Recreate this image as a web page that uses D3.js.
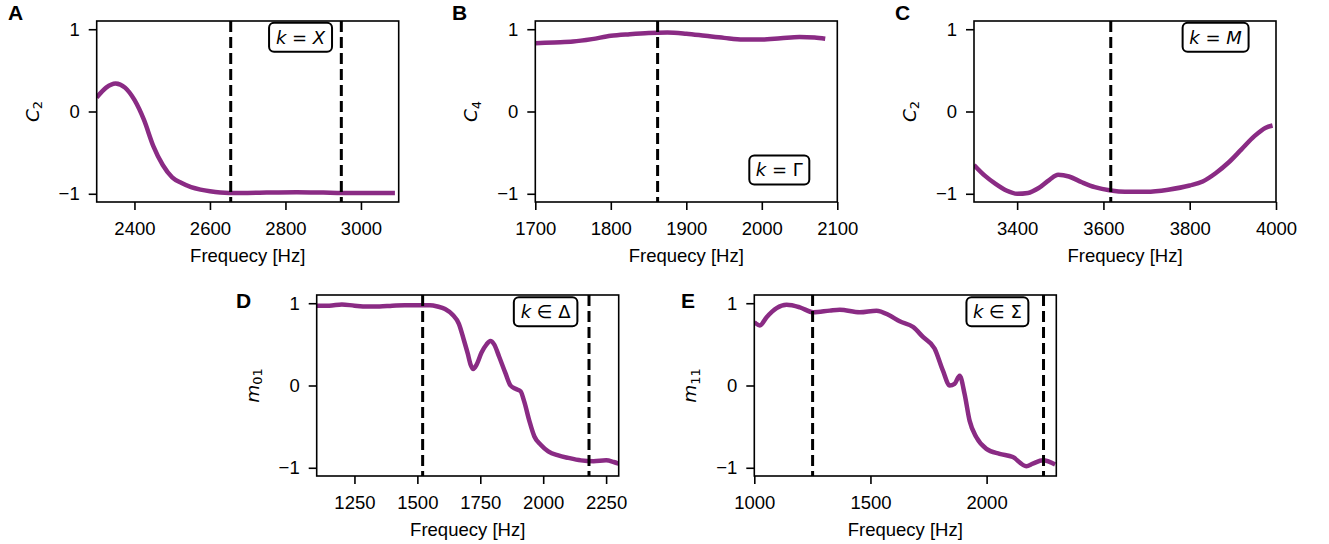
<!DOCTYPE html>
<head>
<meta charset="utf-8">
<title>Frequency panels</title>
<style>
html, body { margin: 0; padding: 0; background: #fff; }
body { font-family: "Liberation Sans", Arial, sans-serif; }
.tick text { font-size: 18.5px; font-family: "Liberation Sans", Arial, sans-serif; fill: #000; }
.tick line { stroke: #000; stroke-width: 1.6px; }
.domain { display: none; }
.frame { fill: none; stroke: #000; stroke-width: 1.6px; }
.curve { fill: none; stroke: #8a2b84; stroke-width: 4.5px; stroke-linejoin: round; }
.marker { stroke: #000; stroke-width: 3px; stroke-dasharray: 11 5; }
.xlabel { font-size: 18.5px; text-anchor: middle; font-family: "Liberation Sans", Arial, sans-serif; }
.ylabel { font-family: "DejaVu Sans", sans-serif; font-size: 18.5px; text-anchor: middle; }
.letter { font-size: 21px; font-weight: bold; font-family: "Liberation Sans", Arial, sans-serif; }
.note text { font-family: "DejaVu Sans", sans-serif; font-size: 18px; text-anchor: middle; }
.note rect { fill: #fff; stroke: #000; stroke-width: 2px; }
</style>
</head>
<body>
<svg width="1329" height="544"></svg>
<script src="https://d3js.org/d3.v7.min.js"></script>
<script>
// ---- data ----
var freqA = [2300, 2325, 2350, 2375, 2400, 2425, 2450, 2475, 2500, 2525, 2550, 2575, 2600, 2650, 2700, 2750, 2830, 2900, 2950, 3000, 3090];
var valA  = [0.17, 0.29, 0.34, 0.29, 0.14, -0.1, -0.42, -0.65, -0.8, -0.87, -0.92, -0.95, -0.97, -0.99, -0.99, -0.985, -0.98, -0.985, -0.99, -0.99, -0.99];
var markA = [2655, 2948];

var freqB = [1700, 1725, 1750, 1775, 1800, 1825, 1850, 1875, 1900, 1925, 1950, 1975, 2000, 2025, 2050, 2070, 2084];
var valB  = [0.83, 0.84, 0.85, 0.88, 0.92, 0.94, 0.955, 0.96, 0.945, 0.92, 0.895, 0.875, 0.875, 0.89, 0.905, 0.9, 0.885];
var markB = [1862];

var freqC = [3300, 3325, 3350, 3375, 3400, 3425, 3450, 3475, 3495, 3520, 3550, 3580, 3617, 3650, 3700, 3750, 3800, 3830, 3860, 3890, 3920, 3950, 3975, 3992];
var valC  = [-0.65, -0.78, -0.88, -0.96, -1.0, -0.99, -0.93, -0.83, -0.77, -0.79, -0.86, -0.92, -0.96, -0.975, -0.975, -0.95, -0.9, -0.85, -0.75, -0.62, -0.46, -0.3, -0.2, -0.17];
var markC = [3617];

var freqD = [1100, 1150, 1200, 1250, 1300, 1350, 1400, 1450, 1500, 1550, 1580, 1610, 1640, 1665, 1685, 1700, 1712, 1722, 1735, 1755, 1775, 1790, 1805, 1825, 1850, 1870, 1890, 1910, 1925, 1945, 1965, 1990, 2020, 2060, 2100, 2150, 2200, 2250, 2280, 2300];
var valD  = [0.97, 0.97, 0.985, 0.97, 0.96, 0.96, 0.97, 0.975, 0.975, 0.975, 0.96, 0.93, 0.86, 0.75, 0.55, 0.39, 0.25, 0.2, 0.25, 0.4, 0.5, 0.54, 0.5, 0.35, 0.15, 0.0, -0.04, -0.07, -0.2, -0.43, -0.62, -0.72, -0.8, -0.85, -0.88, -0.91, -0.92, -0.91, -0.93, -0.95];
var markD = [1521, 2182];

var freqE = [1000, 1024, 1053, 1096, 1139, 1196, 1254, 1325, 1368, 1454, 1526, 1583, 1626, 1684, 1726, 1776, 1812, 1841, 1862, 1884, 1905, 1927, 1956, 1999, 2056, 2113, 2171, 2199, 2242, 2295];
var valE  = [0.77, 0.73, 0.83, 0.94, 0.98, 0.95, 0.89, 0.91, 0.92, 0.89, 0.91, 0.85, 0.78, 0.71, 0.59, 0.45, 0.18, 0.0, 0.02, 0.12, -0.1, -0.43, -0.63, -0.77, -0.83, -0.87, -0.98, -0.95, -0.91, -0.96];
var markE = [1251, 2245];

var yTicks = [-1, 0, 1];

var panels = [
  {id: "A", f: freqA, v: valA, marks: markA, xdom: [2300, 3100], xticks: [2400, 2600, 2800, 3000],
   ylab: ["C", "2"], note: ["k", " = ", "X"], left: 96.7, top: 21, letter: [8, 20], nf: [0.675, 0.09]},
  {id: "B", f: freqB, v: valB, marks: markB, xdom: [1700, 2100], xticks: [1700, 1800, 1900, 2000, 2100],
   ylab: ["C", "4"], note: ["k", " = ", "Γ"], left: 535.3, top: 21, letter: [452, 20], nf: [0.808, 0.823]},
  {id: "C", f: freqC, v: valC, marks: markC, xdom: [3300, 4000], xticks: [3400, 3600, 3800, 4000],
   ylab: ["C", "2"], note: ["k", " = ", "M"], left: 974, top: 21, letter: [895, 20], nf: [0.8, 0.09]},
  {id: "D", f: freqD, v: valD, marks: markD, xdom: [1100, 2300], xticks: [1250, 1500, 1750, 2000, 2250],
   ylab: ["m", "01"], note: ["k", " ∈ ", "Δ"], left: 316.7, top: 295, letter: [236, 308], nf: [0.758, 0.092]},
  {id: "E", f: freqE, v: valE, marks: markE, xdom: [1000, 2300], xticks: [1000, 1500, 2000],
   ylab: ["m", "11"], note: ["k", " ∈ ", "Σ"], left: 754.3, top: 295, letter: [681, 308], nf: [0.805, 0.092]}
];

var W = 302, H = 181;
var svg = d3.select("svg");
svg.append("rect").attr("width", 1329).attr("height", 544).attr("fill", "#fff");

function fmt(d) { return d < 0 ? "\u2212" + Math.abs(d) : String(d); }

panels.forEach(function(p) {
  var x = d3.scaleLinear().domain(p.xdom).range([0, W]);
  var y = d3.scaleLinear().domain([-1.1, 1.1]).range([H, 0]);
  var g = svg.append("g").attr("transform", "translate(" + p.left + "," + p.top + ")");

  g.append("clipPath").attr("id", "clip" + p.id)
    .append("rect").attr("width", W).attr("height", H);

  var pts = p.f.map(function(f, i) { return [f, p.v[i]]; });
  var line = d3.line()
    .x(function(d) { return x(d[0]); })
    .y(function(d) { return y(d[1]); })
    .curve(d3.curveMonotoneX);

  g.append("path").datum(pts)
    .attr("class", "curve")
    .attr("clip-path", "url(#clip" + p.id + ")")
    .attr("d", line);

  g.selectAll(".marker").data(p.marks)
    .enter().append("line")
      .attr("class", "marker")
      .attr("x1", function(d) { return x(d); })
      .attr("x2", function(d) { return x(d); })
      .attr("y1", 0).attr("y2", H);

  g.append("g").attr("transform", "translate(0," + H + ")")
    .call(d3.axisBottom(x).tickValues(p.xticks).tickSize(8).tickPadding(12).tickFormat(fmt));
  g.append("g")
    .call(d3.axisLeft(y).tickValues(yTicks).tickSize(8).tickPadding(9).tickFormat(fmt));

  g.append("rect").attr("class", "frame").attr("width", W).attr("height", H);

  // annotation box
  var note = g.append("g").attr("class", "note");
  var cx = p.nf[0] * W, cy = p.nf[1] * H;
  var rect = note.append("rect");
  var t = note.append("text").attr("x", cx).attr("y", cy + 6.5);
  t.append("tspan").style("font-style", "italic").text(p.note[0]);
  t.append("tspan").text(p.note[1]);
  t.append("tspan").style("font-style", p.note[2] === "X" || p.note[2] === "M" ? "italic" : "normal").text(p.note[2]);
  var bb = t.node().getBBox();
  rect.attr("x", cx - bb.width / 2 - 6.5).attr("y", cy - 14.5)
    .attr("width", bb.width + 13).attr("height", 29).attr("rx", 5);

  // axis labels
  g.append("text").attr("class", "xlabel")
    .attr("x", W / 2).attr("y", H + 60).text("Frequecy [Hz]");

  var yl = g.append("text").attr("class", "ylabel")
    .attr("transform", "translate(-58," + (H / 2) + ") rotate(-90)");
  yl.append("tspan").style("font-style", "italic").text(p.ylab[0]);
  yl.append("tspan").attr("dy", "0.25em").style("font-size", "13px").text(p.ylab[1]);

  svg.append("text").attr("class", "letter")
    .attr("x", p.letter[0]).attr("y", p.letter[1]).text(p.id);
});
</script>
</body>
